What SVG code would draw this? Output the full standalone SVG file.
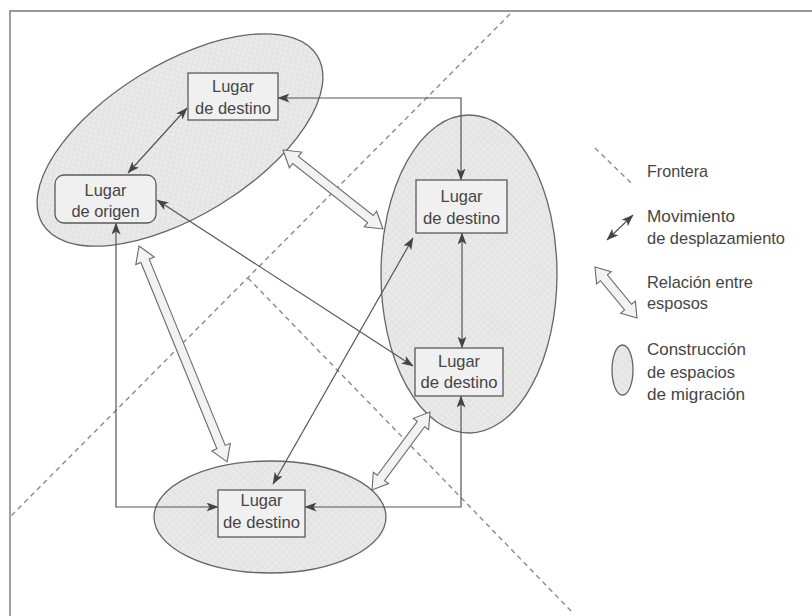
<svg xmlns="http://www.w3.org/2000/svg" width="812" height="616" viewBox="0 0 812 616">
<style>
.t{font-family:"Liberation Sans",Arial,sans-serif;font-size:17px;fill:#454545}
.m{text-anchor:middle}
.box{fill:#f0f0f0;stroke:#5a5a5a;stroke-width:1.3}
.ell{fill:url(#hatch);stroke:#666;stroke-width:1.3}
.ln{fill:none;stroke:#555;stroke-width:1.2;marker-start:url(#ah);marker-end:url(#ah)}
.dash{fill:none;stroke:#8a8a8a;stroke-width:1.4;stroke-dasharray:5 4}
.hol{fill:#f2f2f2;stroke:#6a6a6a;stroke-width:1.1;stroke-linejoin:miter}
</style>
<defs>
<pattern id="hatch" width="5" height="5" patternUnits="userSpaceOnUse" patternTransform="rotate(45)">
<rect width="5" height="5" fill="#e9e9e9"/>
<path d="M0,0 L0,5 M0,0 L5,0" stroke="#dcdcdc" stroke-width="1"/>
</pattern>
<marker id="ah" viewBox="0 0 12 9" refX="11.5" refY="4.5" markerWidth="12" markerHeight="9" markerUnits="userSpaceOnUse" orient="auto-start-reverse">
<path d="M0,0 L12,4.5 L0,9 L3,4.5 z" fill="#444"/>
</marker>
</defs>
<rect width="812" height="616" fill="#fff"/>
<g id="frame"><path d="M10,616 V11 H812" fill="none" stroke="#777" stroke-width="1.4"/></g>
<g id="borders">
<path class="dash" d="M510,14 L11,516"/>
<path class="dash" d="M248,278 L572,612"/>
</g>
<g id="spaces">
<ellipse class="ell" cx="180" cy="140" rx="161" ry="76" transform="rotate(-31.5 180 140)"/>
<ellipse class="ell" cx="469" cy="274" rx="88" ry="159"/>
<ellipse class="ell" cx="270" cy="517" rx="116" ry="56"/>
</g>
<g id="connectors">
<path class="ln" d="M278,98 H461 V180"/>
<path class="ln" d="M187,108 L128,173"/>
<path class="ln" d="M157,200 L413,366"/>
<path class="ln" d="M116,223 V507 H218"/>
<path class="ln" d="M305,507 H461 V396"/>
<path class="ln" d="M273,484 L413,238"/>
<path class="ln" d="M462,233 V348"/>
<polygon class="hol" transform="translate(283 150) rotate(38.3)" points="0,0 16,-10 16,-4.5 111.4,-4.5 111.4,-10 127.4,0 111.4,10 111.4,4.5 16,4.5 16,10"/>
<polygon class="hol" transform="translate(139 246) rotate(67.8)" points="0,0 16,-10 16,-4.5 217.2,-4.5 217.2,-10 233.2,0 217.2,10 217.2,4.5 16,4.5 16,10"/>
<polygon class="hol" transform="translate(372 490) rotate(-53.4)" points="0,0 15,-9.5 15,-4.5 82.2,-4.5 82.2,-9.5 97.2,0 82.2,9.5 82.2,4.5 15,4.5 15,9.5"/>
</g>
<g id="n-dest-top">
<rect class="box" x="188" y="73" width="90" height="47"/>
<text class="t m" x="233" y="92" textLength="42" lengthAdjust="spacingAndGlyphs">Lugar</text>
<text class="t m" x="233" y="114" textLength="76" lengthAdjust="spacingAndGlyphs">de destino</text>
</g>
<g id="n-origen">
<rect class="box" x="55" y="175" width="101" height="48" rx="9"/>
<text class="t m" x="105.5" y="196" textLength="42" lengthAdjust="spacingAndGlyphs">Lugar</text>
<text class="t m" x="105.5" y="217" textLength="68" lengthAdjust="spacingAndGlyphs">de origen</text>
</g>
<g id="n-dest-right1">
<rect class="box" x="416" y="180" width="91" height="53"/>
<text class="t m" x="461.5" y="202" textLength="42" lengthAdjust="spacingAndGlyphs">Lugar</text>
<text class="t m" x="461.5" y="224" textLength="77" lengthAdjust="spacingAndGlyphs">de destino</text>
</g>
<g id="n-dest-right2">
<rect class="box" x="415" y="348" width="88" height="48"/>
<text class="t m" x="459" y="367" textLength="42" lengthAdjust="spacingAndGlyphs">Lugar</text>
<text class="t m" x="459" y="388" textLength="77" lengthAdjust="spacingAndGlyphs">de destino</text>
</g>
<g id="n-dest-bottom">
<rect class="box" x="218" y="490" width="87" height="47"/>
<text class="t m" x="261.5" y="506" textLength="42" lengthAdjust="spacingAndGlyphs">Lugar</text>
<text class="t m" x="261.5" y="528" textLength="77" lengthAdjust="spacingAndGlyphs">de destino</text>
</g>
<g id="legend">
<path class="dash" d="M595,148 L631,183"/>
<text class="t" x="647" y="177" textLength="61" lengthAdjust="spacingAndGlyphs">Frontera</text>
<path class="ln" d="M607,240 L633,215"/>
<text class="t" x="647" y="222" textLength="88" lengthAdjust="spacingAndGlyphs">Movimiento</text>
<text class="t" x="647" y="244" textLength="138" lengthAdjust="spacingAndGlyphs">de desplazamiento</text>
<polygon class="hol" transform="translate(595 267) rotate(50.5)" points="0,0 14,-9.5 14,-4.5 52,-4.5 52,-9.5 66,0 52,9.5 52,4.5 14,4.5 14,9.5"/>
<text class="t" x="647" y="288" textLength="106" lengthAdjust="spacingAndGlyphs">Relación entre</text>
<text class="t" x="647" y="309" textLength="61" lengthAdjust="spacingAndGlyphs">esposos</text>
<ellipse class="ell" cx="622.5" cy="370" rx="10.5" ry="25"/>
<text class="t" x="647" y="355" textLength="99" lengthAdjust="spacingAndGlyphs">Construcción</text>
<text class="t" x="647" y="378" textLength="88" lengthAdjust="spacingAndGlyphs">de espacios</text>
<text class="t" x="647" y="400" textLength="98" lengthAdjust="spacingAndGlyphs">de migración</text>
</g>
</svg>
